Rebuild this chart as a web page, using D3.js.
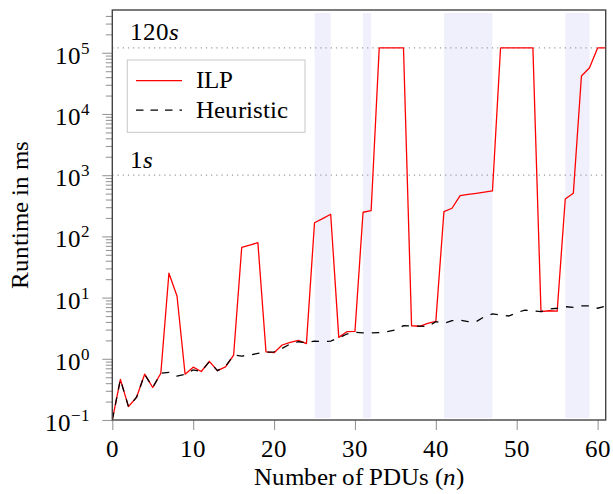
<!DOCTYPE html>
<html>
<head>
<meta charset="utf-8">
<script src="https://cdn.jsdelivr.net/npm/d3@7"></script>
<style>
  @font-face { font-family: 'PlotSerif'; src: local('Liberation Serif'), local('LiberationSerif'), local('LiberationSerif-Regular'); font-style: normal; }
  @font-face { font-family: 'PlotSerif'; src: local('Liberation Serif Italic'), local('LiberationSerif-Italic'); font-style: italic; }
</style>
</head>
<body style="margin:0">
<script>
//
// DATA
//
// number of PDUs (x axis)
const pdus = [0, 1, 2, 3, 4, 5, 6, 7, 8, 9, 10, 11, 12, 13, 14, 15, 16, 17, 18, 19,
    20, 21, 22, 23, 24, 25, 26, 27, 28, 29, 30, 31, 32, 33, 34, 35, 36, 37, 38, 39,
    40, 41, 42, 43, 44, 45, 46, 47, 48, 49, 50, 51, 52, 53, 54, 55, 56, 57, 58, 59,
    60, 61]
// runtime in ms, ILP (120000 = timeout)
const ilp = [0.1, 0.46, 0.165, 0.235, 0.56, 0.34, 0.58, 25, 10.6, 0.56,
    0.73, 0.62, 0.91, 0.64, 0.74, 1.15, 66, 72, 79, 1.3,
    1.26, 1.68, 1.86, 2.0, 1.77, 167, 195, 230, 2.24, 2.77,
    2.8, 248, 263, 120000, 120000, 120000, 120000, 3.47, 3.4, 3.8,
    4.1, 254, 288, 463, 484, 505, 527, 552, 120000, 120000,
    120000, 120000, 120000, 5.9, 6.1, 6.0, 408, 506, 41800, 57000,
    120000, 120000]
// runtime in ms, heuristic
const heuristic = [0.1, 0.46, 0.165, 0.235, 0.56, 0.34, 0.58, 0.6, 0.52, 0.56,
    0.66, 0.62, 0.9, 0.64, 0.75, 1.15, 1.11, 1.15, 1.23, 1.28,
    1.3, 1.48, 1.75, 1.9, 1.83, 1.95, 1.9, 1.95, 2.2, 2.54,
    2.71, 2.65, 2.65, 2.67, 2.77, 2.95, 3.47, 3.43, 3.43, 3.35,
    4.05, 3.8, 4.2, 4.3, 4.05, 4.05, 4.88, 5.4, 5.2, 5.0,
    5.66, 6.26, 6.1, 5.9, 6.5, 6.7, 7.1, 6.9, 7.3, 7.3,
    6.7, 7.3]
// shaded ranges of n
const bands = [[25, 27], [31, 32], [41, 47], [56, 59]]
// horizontal reference lines (ms) and their labels (seconds)
const refValues = [120000, 1000]
const refLabels = ['120', '1']
// ticks
const xTicks = [0, 10, 20, 30, 40, 50, 60]
const yExponents = [-1, 0, 1, 2, 3, 4, 5]
const minorSteps = [2, 3, 4, 5, 6, 7, 8, 9]
const seriesNames = ['ILP', 'Heuristic']

//
// GLOBALS
//
const width = 613
const height = 494
const plot = { left: 112.3, right: 605.7, top: 10, bottom: 420 }
const fontSize = 25
const face = 'PlotSerif, Liberation Serif'

const svg = d3.select('body').append('svg')
    .attr('width', width)
    .attr('height', height)

const x = d3.scaleLinear().domain([0, 61]).range([plot.left, plot.right])
const y = d3.scaleLog().domain([0.1, 5e5]).range([plot.bottom, plot.top])

// helper for text
const addText = (parent) => parent.append('text')
    .attr('font-family', face)
    .attr('font-size', fontSize)

// clip for the data
svg.append('clipPath').attr('id', 'clip')
    .append('rect')
    .attr('x', plot.left).attr('y', plot.top)
    .attr('width', plot.right - plot.left).attr('height', plot.bottom - plot.top)

// 1) shaded bands
svg.append('g')
    .selectAll('rect')
    .data(bands)
    .join('rect')
    .attr('x', d => x(d[0]))
    .attr('width', d => x(d[1]) - x(d[0]))
    .attr('y', plot.top + 3)
    .attr('height', plot.bottom - plot.top - 5)
    .attr('fill', '#f0f0fd')

// 2) reference lines with labels
refValues.forEach((v, i) => {
    svg.append('line')
        .attr('x1', plot.left).attr('x2', plot.right)
        .attr('y1', y(v)).attr('y2', y(v))
        .attr('stroke', '#999')
        .attr('stroke-width', 1.2)
        .attr('stroke-dasharray', '1.2,4')
    const t = addText(svg)
        .attr('x', 130)
        .attr('y', y(v) - 7.5)
    t.append('tspan').text(refLabels[i])
    t.append('tspan').attr('font-style', 'italic').text('s')
})

// 3) axes ticks
const minorValues = []
yExponents.forEach(e => minorSteps.forEach(m => {
    const v = m * Math.pow(10, e)
    if (v < 5e5) minorValues.push(v)
}))
const majorValues = yExponents.map(e => Math.pow(10, e))

const styleTicks = g => {
    g.select('.domain').remove()
    g.selectAll('.tick line').attr('stroke', '#999').attr('stroke-width', 1.1)
    g.selectAll('.tick text').remove()
}

svg.append('g')
    .attr('transform', `translate(${plot.left},0)`)
    .call(d3.axisLeft(y).tickValues(minorValues).tickSize(6.5).tickFormat(''))
    .call(styleTicks)
svg.append('g')
    .attr('transform', `translate(${plot.left},0)`)
    .call(d3.axisLeft(y).tickValues(majorValues).tickSize(10).tickFormat(''))
    .call(styleTicks)
svg.append('g')
    .attr('transform', `translate(0,${plot.bottom})`)
    .call(d3.axisBottom(x).tickValues(xTicks).tickSize(10).tickFormat(''))
    .call(styleTicks)

// y tick labels as 10^e
yExponents.forEach(e => {
    const t = addText(svg)
        .attr('x', 90)
        .attr('y', y(Math.pow(10, e)) + 11)
        .attr('text-anchor', 'end')
    t.append('tspan').text('10')
    t.append('tspan')
        .attr('dy', -10)
        .attr('font-size', 17)
        .text(String(e).replace('-', '\u2212'))
})

// x tick labels
xTicks.forEach(d => {
    addText(svg)
        .attr('x', x(d))
        .attr('y', 456.7)
        .attr('text-anchor', 'middle')
        .text(d)
})

// 4) the two series, heuristic drawn on top
const line = values => d3.line()
    .x((d, i) => x(pdus[i]))
    .y(d => y(d))(values)

svg.append('path')
    .attr('d', line(ilp))
    .attr('clip-path', 'url(#clip)')
    .attr('fill', 'none')
    .attr('stroke', '#ff0000')
    .attr('stroke-width', 1.3)
    .attr('stroke-linejoin', 'round')
svg.append('path')
    .attr('d', line(heuristic))
    .attr('clip-path', 'url(#clip)')
    .attr('fill', 'none')
    .attr('stroke', '#000')
    .attr('stroke-width', 1.3)
    .attr('stroke-dasharray', '7.5,8')

// 5) plot frame
svg.append('rect')
    .attr('x', plot.left).attr('y', plot.top)
    .attr('width', plot.right - plot.left).attr('height', plot.bottom - plot.top)
    .attr('fill', 'none')
    .attr('stroke', '#444')
    .attr('stroke-width', 1.4)

// 6) legend
const legend = svg.append('g')
legend.append('rect')
    .attr('x', 127.3).attr('y', 60)
    .attr('width', 177.7).attr('height', 72.3)
    .attr('fill', '#fff')
    .attr('stroke', '#ccc')
    .attr('stroke-width', 1.1)
const legendStyles = [
    { stroke: '#ff0000', dash: null },
    { stroke: '#000', dash: '7.5,7' },
]
seriesNames.forEach((name, i) => {
    const ly = 80.7 + i * 29.5
    legend.append('line')
        .attr('x1', 136).attr('x2', 182)
        .attr('y1', ly).attr('y2', ly)
        .attr('stroke', legendStyles[i].stroke)
        .attr('stroke-width', 1.3)
        .attr('stroke-dasharray', legendStyles[i].dash)
    addText(legend)
        .attr('x', 196)
        .attr('y', ly + 7.5)
        .text(name)
})

// 7) axis titles
const xt = addText(svg)
    .attr('x', (plot.left + plot.right) / 2)
    .attr('y', 485)
    .attr('text-anchor', 'middle')
xt.append('tspan').text('Number of PDUs (')
xt.append('tspan').attr('font-style', 'italic').text('n')
xt.append('tspan').text(')')

addText(svg)
    .attr('transform', `translate(28.3,${(plot.top + plot.bottom) / 2}) rotate(-90)`)
    .attr('text-anchor', 'middle')
    .text('Runtime in ms')
</script>
</body>
</html>
